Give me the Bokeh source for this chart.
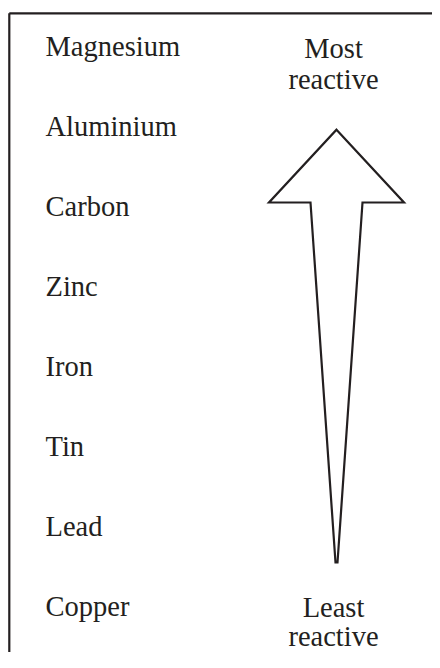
from bokeh.plotting import figure
from bokeh.models import Range1d
from bokeh.core.properties import value
from bokeh.embed import file_html
from bokeh.resources import INLINE

# Reactivity series, most reactive first
metals = ["Magnesium", "Aluminium", "Carbon", "Zinc", "Iron", "Tin", "Lead", "Copper"]
ranks = [7, 6, 5, 4, 3, 2, 1, 0]
top_label = ["Most", "reactive"]
bottom_label = ["Least", "reactive"]

INK = "#231f20"
FONT = value("Liberation Serif")
FS = "28.5px"
TXT_UP = 8.5 / 80  # baseline correction for text rendering

p = figure(width=432, height=652, output_backend="svg", toolbar_location=None,
           x_range=Range1d(0, 432), y_range=Range1d(-0.475, 7.675),
           min_border=0, outline_line_color=None)
p.axis.visible = False
p.grid.visible = False
p.background_fill_color = "white"
p.border_fill_color = "white"

# frame (top and left edges)
frame_top = 7.515
frame_left = 8.8
p.line([frame_left, 440], [frame_top, frame_top], line_color=INK, line_width=2.2)
p.line([frame_left, frame_left], [-0.7, frame_top], line_color=INK, line_width=2.2)

# metal labels
p.text(x=[45] * len(metals), y=[r + TXT_UP for r in ranks], text=metals, text_font=FONT,
       text_font_size=FS, text_color=INK, text_baseline="alphabetic",
       text_align="left")

# arrow
cx = 336
tip_y, head_y, bottom_y = 6.06, 5.15, 0.65
head_hw, shaft_hw = 67.5, 26
ax = [cx, cx + head_hw, cx + shaft_hw, cx + 1, cx - 1, cx - shaft_hw, cx - head_hw]
ay = [tip_y, head_y, head_y, bottom_y, bottom_y, head_y, head_y]
p.patch(ax, ay, fill_color="white", line_color=INK, line_width=2.2, line_join="miter")

# end labels
p.text(x=[333, 333], y=[6.966 + TXT_UP, 6.58 + TXT_UP], text=top_label, text_font=FONT,
       text_font_size=FS, text_color=INK, text_baseline="alphabetic",
       text_align="center")
p.text(x=[333, 333], y=[-0.02 + TXT_UP, -0.375 + TXT_UP], text=bottom_label, text_font=FONT,
       text_font_size=FS, text_color=INK, text_baseline="alphabetic",
       text_align="center")

open("out.html", "w").write(file_html(p, INLINE))
